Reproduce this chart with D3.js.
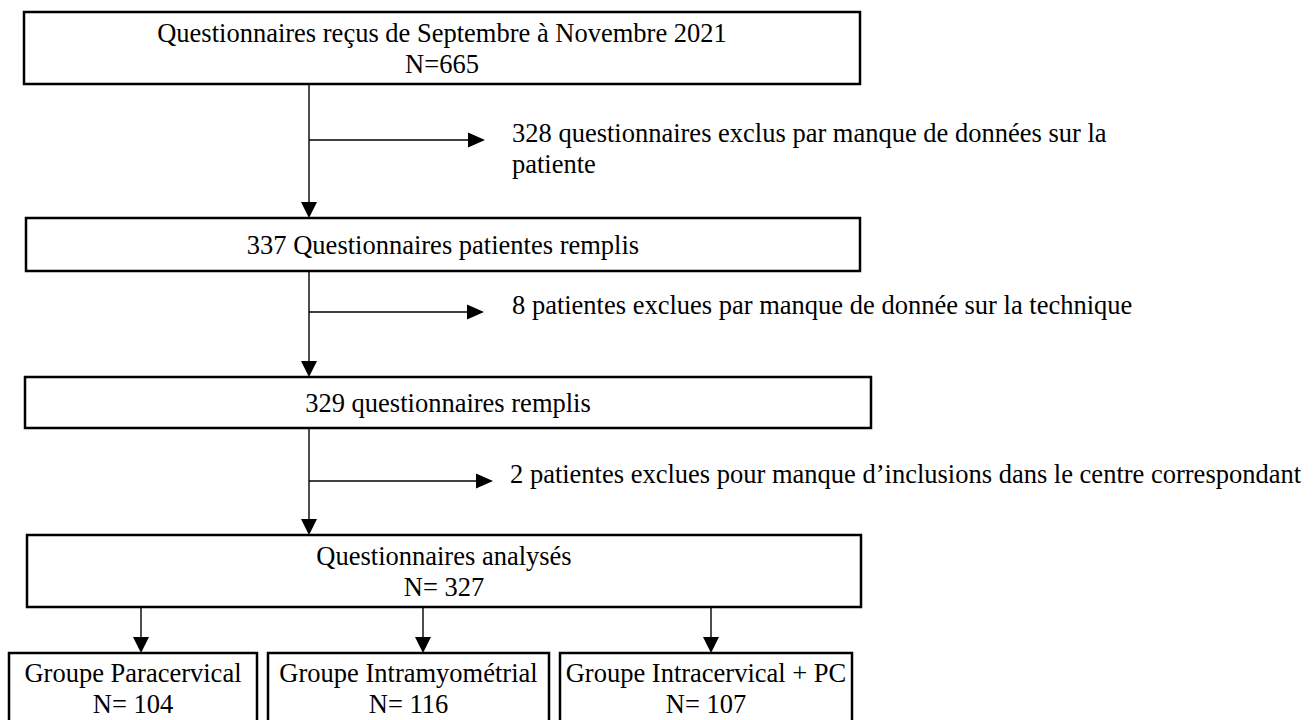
<!DOCTYPE html>
<html>
<head>
<meta charset="utf-8">
<script src="https://cdn.jsdelivr.net/npm/d3@7"></script>
<style>
  body { margin: 0; background: #fff; }
  text { font-family: "Liberation Serif", "Times New Roman", serif; font-size: 26.5px; fill: #000; }
</style>
</head>
<body>
<div id="canvas"></div>
<script>
// flow steps (text lines of each main box)
let stepLabels = [
    ["Questionnaires reçus de Septembre à Novembre 2021", "N=665"],
    ["337 Questionnaires patientes remplis"],
    ["329 questionnaires remplis"],
    ["Questionnaires analysés", "N= 327"]
];
let exclusionLabels = [
    ["328 questionnaires exclus par manque de données sur la", "patiente"],
    ["8 patientes exclues par manque de donnée sur la technique"],
    ["2 patientes exclues pour manque d\u2019inclusions dans le centre correspondant"]
];
let groupNames = ["Groupe Paracervical", "Groupe Intramyométrial", "Groupe Intracervical + PC"];
let groupN = ["N= 104", "N= 116", "N= 107"];

// layout
let width = 1314, height = 720;
let lineH = 31;
let trunkX = 309;
let mainBoxes = [
    { x0: 24, x1: 860, y0: 12, y1: 84 },
    { x0: 26, x1: 860, y0: 218, y1: 271 },
    { x0: 25, x1: 871, y0: 377, y1: 428 },
    { x0: 27, x1: 861, y0: 535, y1: 607 }
];
let branchY = [140, 312, 481];
let branchTip = [485, 484, 493];
let textX = [512, 512, 510];
let groupBoxes = [
    { x0: 9, x1: 257, arrow: 141 },
    { x0: 268, x1: 549, arrow: 423 },
    { x0: 560, x1: 852, arrow: 711 }
];
let groupTop = 653, groupBottom = 724;

let svg = d3.select("#canvas").append("svg")
    .attr("width", width)
    .attr("height", height);

let arrowDown = (g, x, y) => {
    g.append("path")
        .attr("d", `M${x - 8},${y - 16}L${x + 8},${y - 16}L${x},${y}Z`)
        .attr("fill", "#000");
};
let arrowRight = (g, x, y) => {
    g.append("path")
        .attr("d", `M${x - 17},${y - 7.5}L${x - 17},${y + 7.5}L${x},${y}Z`)
        .attr("fill", "#000");
};

let lines = svg.append("g");

// trunk segments between main boxes + side exclusions
for (let i = 0; i < mainBoxes.length - 1; i++) {
    let y0 = mainBoxes[i].y1, y1 = mainBoxes[i + 1].y0;
    lines.append("line")
        .attr("x1", trunkX).attr("x2", trunkX)
        .attr("y1", y0).attr("y2", y1 - 14)
        .attr("stroke", "#000").attr("stroke-width", 1.4);
    arrowDown(lines, trunkX, y1);

    lines.append("line")
        .attr("x1", trunkX).attr("x2", branchTip[i] - 15)
        .attr("y1", branchY[i]).attr("y2", branchY[i])
        .attr("stroke", "#000").attr("stroke-width", 1.4);
    arrowRight(lines, branchTip[i], branchY[i]);

    let t = svg.append("text")
        .attr("x", textX[i])
        .attr("y", branchY[i] + 2);
    t.selectAll("tspan")
        .data(exclusionLabels[i])
        .join("tspan")
        .attr("x", textX[i])
        .attr("dy", (d, j) => j === 0 ? 0 : lineH)
        .text(d => d);
}

// main boxes
let boxes = svg.selectAll("g.step")
    .data(stepLabels)
    .join("g")
    .attr("class", "step");

boxes.append("rect")
    .attr("x", (d, i) => mainBoxes[i].x0)
    .attr("y", (d, i) => mainBoxes[i].y0)
    .attr("width", (d, i) => mainBoxes[i].x1 - mainBoxes[i].x0)
    .attr("height", (d, i) => mainBoxes[i].y1 - mainBoxes[i].y0)
    .attr("fill", "#fff")
    .attr("stroke", "#000")
    .attr("stroke-width", 2.5);

boxes.append("text")
    .attr("text-anchor", "middle")
    .attr("y", (d, i) => {
        let b = mainBoxes[i];
        let mid = (b.y0 + b.y1) / 2;
        return mid + 9 - (d.length - 1) * lineH / 2;
    })
    .each(function (d, i) {
        let cx = (mainBoxes[i].x0 + mainBoxes[i].x1) / 2;
        d3.select(this).selectAll("tspan")
            .data(d)
            .join("tspan")
            .attr("x", cx)
            .attr("dy", (s, j) => j === 0 ? 0 : lineH)
            .text(s => s);
    });

// arrows down to the groups
groupBoxes.forEach(b => {
    lines.append("line")
        .attr("x1", b.arrow).attr("x2", b.arrow)
        .attr("y1", mainBoxes[3].y1).attr("y2", groupTop - 14)
        .attr("stroke", "#000").attr("stroke-width", 1.4);
    arrowDown(lines, b.arrow, groupTop);
});

let groups = svg.selectAll("g.group")
    .data(groupNames)
    .join("g")
    .attr("class", "group");

groups.append("rect")
    .attr("x", (d, i) => groupBoxes[i].x0)
    .attr("y", groupTop)
    .attr("width", (d, i) => groupBoxes[i].x1 - groupBoxes[i].x0)
    .attr("height", groupBottom - groupTop)
    .attr("fill", "#fff")
    .attr("stroke", "#000")
    .attr("stroke-width", 2.5);

groups.append("text")
    .attr("text-anchor", "middle")
    .attr("x", (d, i) => (groupBoxes[i].x0 + groupBoxes[i].x1) / 2)
    .attr("y", 682)
    .text(d => d);

groups.append("text")
    .attr("text-anchor", "middle")
    .attr("x", (d, i) => (groupBoxes[i].x0 + groupBoxes[i].x1) / 2)
    .attr("y", 713)
    .text((d, i) => groupN[i]);
</script>
</body>
</html>
